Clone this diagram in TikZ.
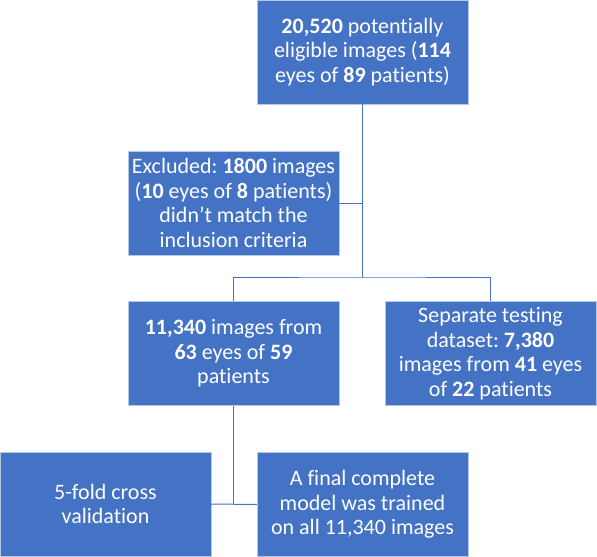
\documentclass[tikz,border=0pt]{standalone}
\usepackage{fontspec}
\setmainfont{Carlito}[Ligatures=NoCommon]
\usepackage{tikz}
\usetikzlibrary{calc,positioning}
\definecolor{boxblue}{HTML}{4472C4}
\definecolor{boxedge}{HTML}{B4C7E7}
\frenchspacing

\begin{document}
\begin{tikzpicture}[
  x=0.75pt, y=-0.75pt,
  every node/.style={rectangle, fill=boxblue, draw=boxedge, line width=0.4pt, text=white,
    minimum width=158pt, minimum height=78pt, inner sep=2pt, align=center,
    font=\fontsize{16.5}{18.4}\selectfont},
  conn/.style={draw=boxblue, line width=0.75pt}
]
\useasboundingbox (0,0) rectangle (597,557);
\node (top)  at (362.5,52)    {\textbf{20,520} potentially\\eligible images (\textbf{114}\\eyes of \textbf{89} patients)};
\node (excl) at (233.5,203)   {Excluded: \textbf{1800} images\\(\textbf{10} eyes of \textbf{8} patients)\\didn’t match the\\inclusion criteria};
\node (midL) at (233.5,353.5) {\textbf{11,340} images from\\\textbf{63} eyes of \textbf{59}\\patients};
\node (midR) at (490.5,353.5) {Separate testing\\dataset: \textbf{7,380}\\images from \textbf{41} eyes\\of \textbf{22} patients};
\node (botL) at (105.5,504)   {5-fold cross\\validation};
\node (botR) at (362.5,504.5) {A final complete\\model was trained\\on all 11,340 images};
% connectors
\coordinate (fork) at (362.5,277);
\coordinate (join) at (233.5,504);
\draw[conn] (top.south) -- (fork);
\draw[conn] (excl.east) -- (excl.east -| fork);
\draw[conn] (midL.north) |- (fork) -| (midR.north);
\draw[conn] (midL.south) -- (join);
\draw[conn] (botL.east) -- (botR.west);
\end{tikzpicture}
\end{document}
